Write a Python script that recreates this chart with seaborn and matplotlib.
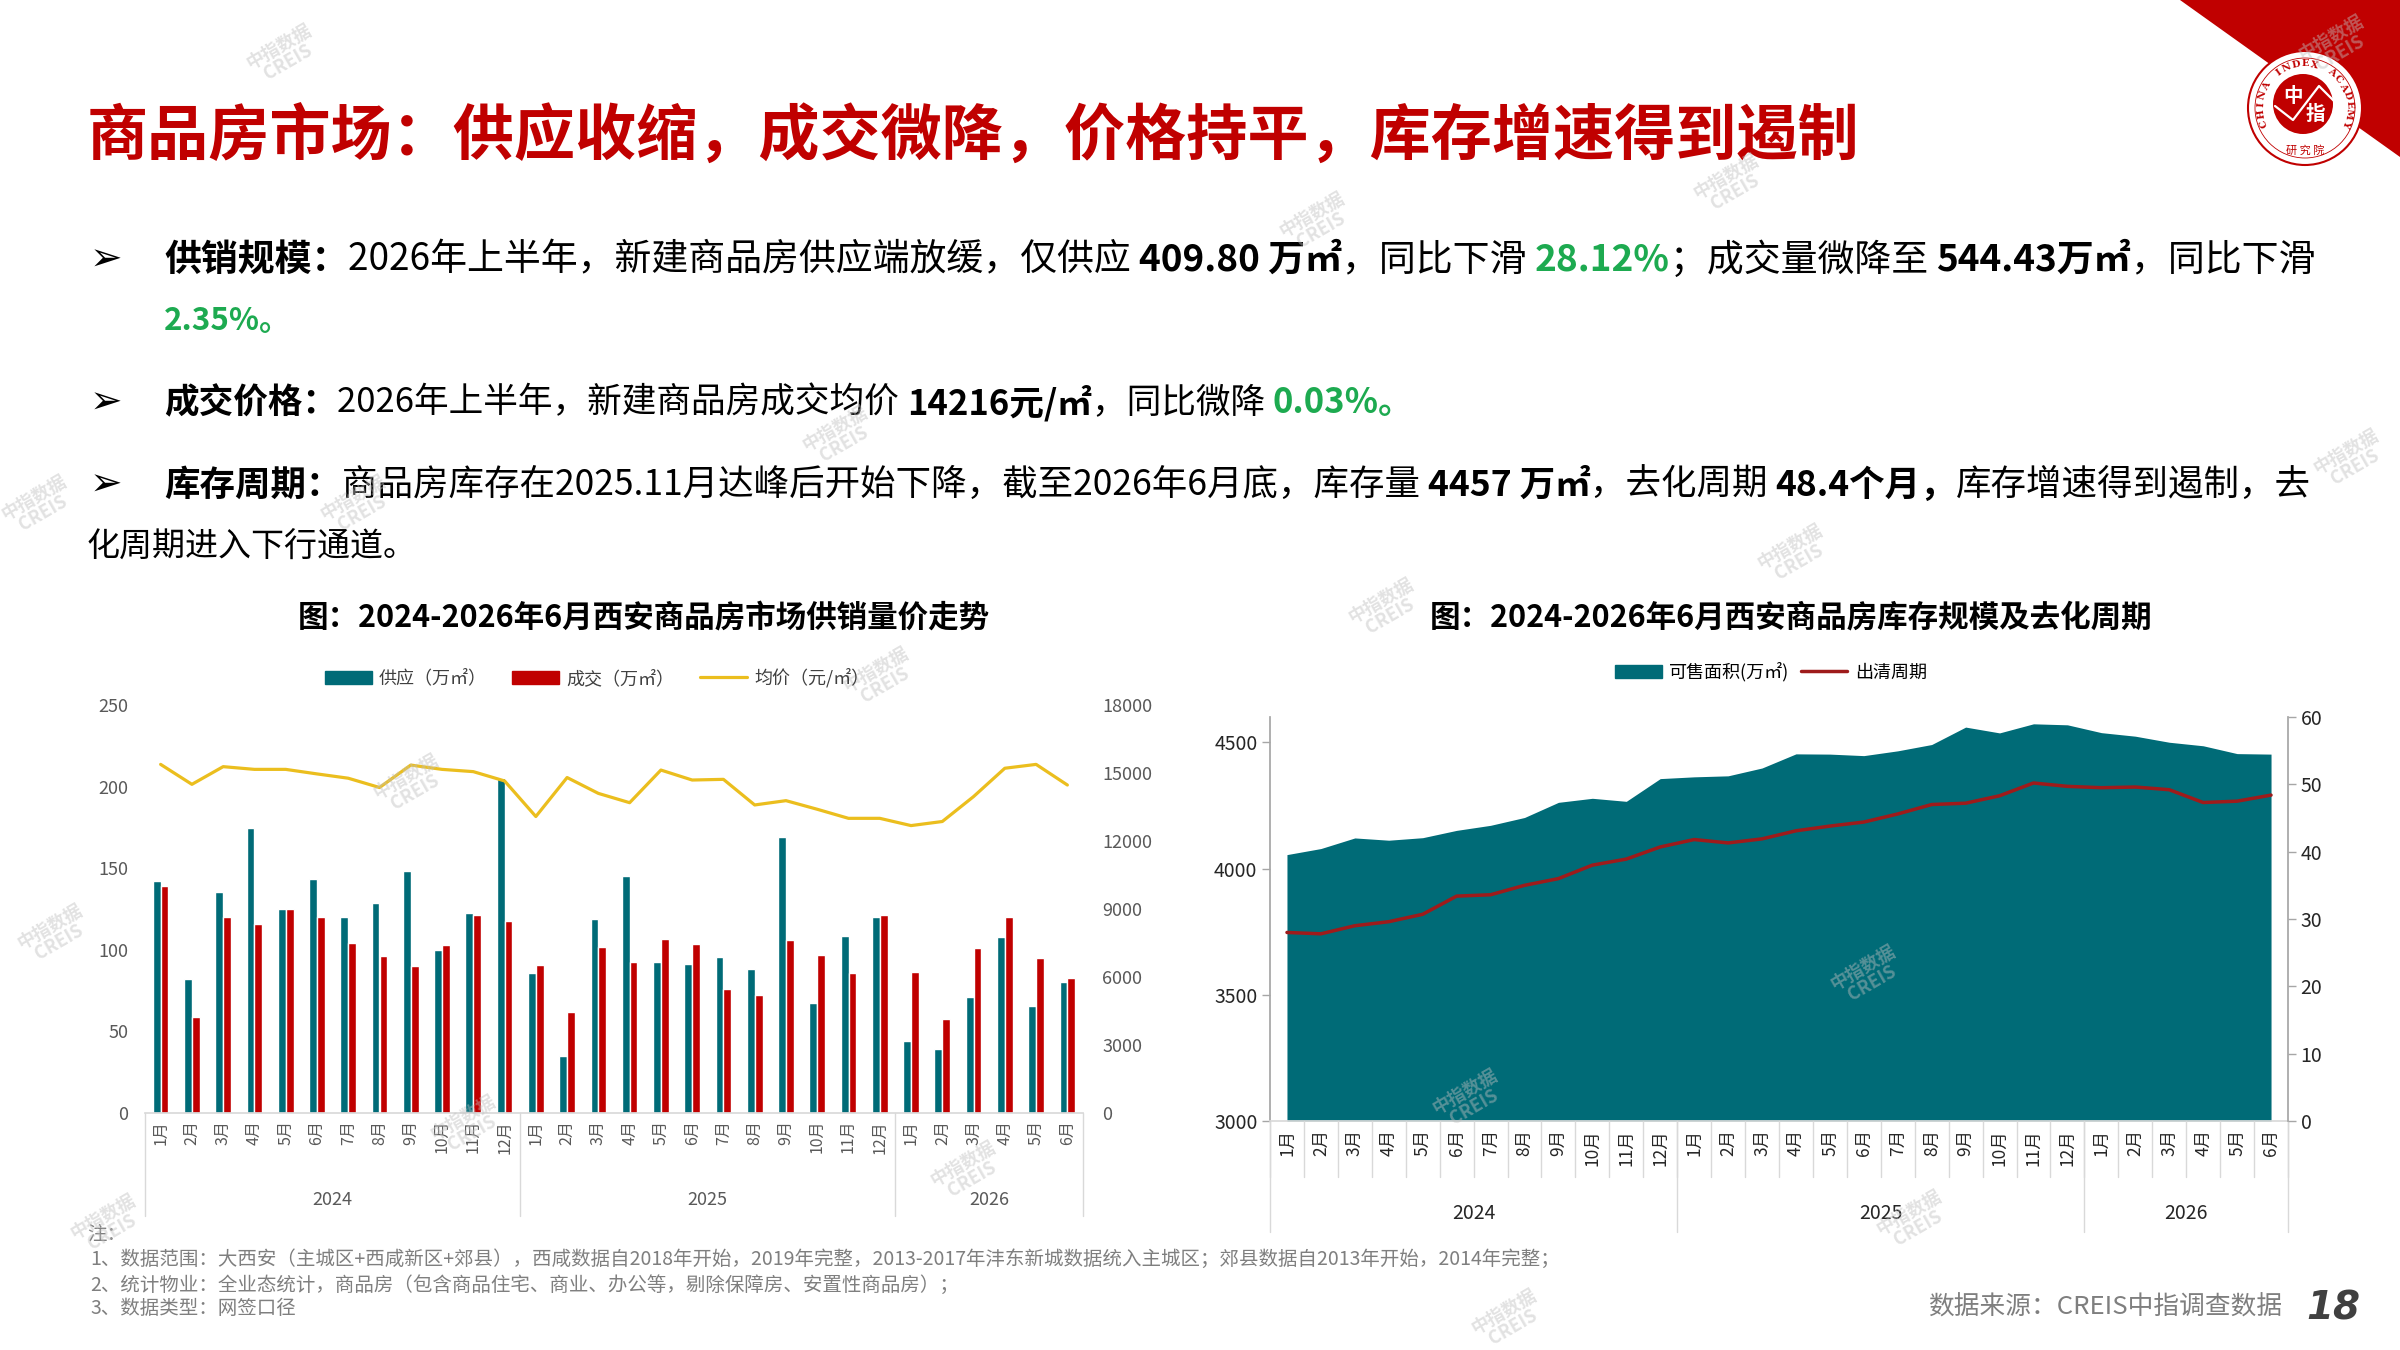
import math
import matplotlib
matplotlib.use('Agg')
import matplotlib.pyplot as plt
import seaborn as sns
import pandas as pd
from matplotlib.patches import Polygon, Circle, Patch
from matplotlib.lines import Line2D

# ---- data ----
months = ['1月', '2月', '3月', '4月', '5月', '6月', '7月', '8月', '9月', '10月', '11月', '12月',
          '1月', '2月', '3月', '4月', '5月', '6月', '7月', '8月', '9月', '10月', '11月', '12月',
          '1月', '2月', '3月', '4月', '5月', '6月']
years = ['2024', '2025', '2026']
year_counts = [12, 12, 6]

supply = [142.4, 82.0, 135.7, 174.9, 124.9, 143.3, 119.8, 128.6, 148.0, 99.8, 122.4, 205.5,
          85.9, 35.1, 118.8, 145.3, 92.4, 91.4, 95.5, 88.0, 169.0, 67.3, 108.2, 120.2,
          43.9, 39.4, 71.0, 107.8, 65.7, 80.2]
deal = [138.8, 58.6, 119.8, 116.1, 124.9, 120.0, 103.9, 96.5, 90.0, 102.9, 121.4, 117.6,
        90.6, 61.6, 101.8, 92.4, 106.5, 103.5, 76.1, 72.4, 106.1, 96.9, 85.7, 121.4,
        86.7, 57.3, 100.8, 120.4, 95.1, 82.9]
price = [15380, 14500, 15280, 15160, 15160, 14960, 14770, 14360, 15350, 15160, 15060, 14650,
         13080, 14800, 14100, 13690, 15130, 14690, 14720, 13590, 13780, 13400, 13000, 13000,
         12680, 12860, 13960, 15210, 15380, 14470]

stock = [4055, 4079, 4121, 4112, 4122, 4151, 4171, 4202, 4262, 4278, 4266, 4356,
         4363, 4367, 4398, 4454, 4453, 4447, 4466, 4491, 4560, 4537, 4573, 4569,
         4538, 4524, 4500, 4486, 4455, 4453]
period = [28.0, 27.8, 29.0, 29.6, 30.7, 33.4, 33.6, 35.0, 36.0, 38.0, 38.9, 40.7,
          41.8, 41.3, 41.9, 43.1, 43.8, 44.4, 45.6, 47.0, 47.2, 48.3, 50.2, 49.7,
          49.5, 49.6, 49.2, 47.3, 47.5, 48.4]

TEAL = '#006B77'
RED = '#C00000'
GOLD = '#EBBE1E'
DARKRED = '#9E1B1B'
GREEN = '#1DAA50'
GREY = '#7F7F7F'

sns.set_theme(style='white')
plt.rcParams['font.family'] = ['Noto Sans CJK SC', 'DejaVu Sans']
plt.rcParams['axes.unicode_minus'] = False

W, H = 2400, 1350
fig = plt.figure(figsize=(24, 13.5), dpi=100)
fig.patch.set_facecolor('white')


def box(x0, y0, x1, y1):
    # pixel box (top-left origin) -> figure fraction rect
    return [x0 / W, 1 - y1 / H, (x1 - x0) / W, (y1 - y0) / H]


n = len(months)
idx = list(range(n))

# ---------------- left chart: supply / deal / price ----------------
ax1 = fig.add_axes(box(145, 705, 1083, 1113))
df_bar = pd.DataFrame({
    'idx': idx + idx,
    'val': supply + deal,
    'series': ['供应（万㎡）'] * n + ['成交（万㎡）'] * n,
})
sns.barplot(data=df_bar, x='idx', y='val', hue='series', palette=[TEAL, RED],
            width=0.5, saturation=1, ax=ax1, legend=False)
ax1.set_xlim(-0.5, n - 0.5)
ax1.set_ylim(0, 250)
ax1.set_yticks(range(0, 251, 50))
ax1.set_xticks(idx)
ax1.set_xticklabels(months, rotation=90, fontsize=11.5, color='#595959')
ax1.tick_params(axis='y', length=0, pad=12, labelsize=13, labelcolor='#595959')
ax1.tick_params(axis='x', length=0, pad=5)
ax1.set_xlabel('')
ax1.set_ylabel('')
for s in ['left', 'right', 'top']:
    ax1.spines[s].set_visible(False)
ax1.spines['bottom'].set_color('#D9D9D9')

ax1r = ax1.twinx()
sns.lineplot(x=idx, y=price, color=GOLD, lw=2.3, ax=ax1r)
ax1r.set_ylim(0, 18000)
ax1r.set_yticks(range(0, 18001, 3000))
ax1r.tick_params(axis='y', length=0, pad=14, labelsize=13, labelcolor='#595959')
for s in ['left', 'right', 'top', 'bottom']:
    ax1r.spines[s].set_visible(False)

# year groups under the left chart
start = 0
bounds = [-0.5]
for yr, c in zip(years, year_counts):
    ax1.text(start + c / 2 - 0.5, -0.213, yr, transform=ax1.get_xaxis_transform(),
             ha='center', va='center', fontsize=13, color='#595959')
    start += c
    bounds.append(start - 0.5)
for b in bounds:
    ax1.plot([b, b], [0, -0.252], transform=ax1.get_xaxis_transform(),
             color='#D9D9D9', lw=1, clip_on=False)

fig.legend(handles=[Patch(color=TEAL), Patch(color=RED), Line2D([], [], color=GOLD, lw=2.3)],
           labels=['供应（万㎡）', '成交（万㎡）', '均价（元/㎡）'],
           loc='center', bbox_to_anchor=(597 / W, 1 - 678 / H), ncol=3, frameon=False,
           fontsize=13, handlelength=2.6, handleheight=0.75, columnspacing=1.4,
           handletextpad=0.4, labelcolor='#404040')

# ---------------- right chart: stock / period ----------------
ax2 = fig.add_axes(box(1270, 717, 2288, 1121))
ax2.fill_between(idx, stock, 3000, color=TEAL, lw=0)
ax2.set_xlim(-0.5, n - 0.5)
ax2.set_ylim(3000, 4600)
ax2.set_yticks([3000, 3500, 4000, 4500])
ax2.set_xticks(idx)
ax2.set_xticklabels(months, rotation=90, fontsize=12.5, color='#262626')
ax2.tick_params(axis='x', length=0, pad=6)
ax2.tick_params(axis='y', length=6, width=1, color='#A6A6A6', direction='out',
                labelsize=14, labelcolor='#262626', pad=3, left=True)
for s in ['right', 'top']:
    ax2.spines[s].set_visible(False)
ax2.spines['left'].set_color('#A6A6A6')
ax2.spines['bottom'].set_color('#D9D9D9')

ax2r = ax2.twinx()
sns.lineplot(x=idx, y=period, color=DARKRED, lw=2.5, ax=ax2r)
ax2r.set_ylim(0, 60)
ax2r.set_yticks(range(0, 61, 10))
ax2r.tick_params(axis='y', length=6, width=1, color='#A6A6A6', direction='out',
                 labelsize=14, labelcolor='#262626', pad=3, right=True)
for s in ['left', 'top', 'bottom']:
    ax2r.spines[s].set_visible(False)
ax2r.spines['right'].set_color('#A6A6A6')

for i in range(n + 1):
    ax2.plot([i - 0.5, i - 0.5], [0, -0.139], transform=ax2.get_xaxis_transform(),
             color='#D9D9D9', lw=1, clip_on=False)
start = 0
for yr, c in zip(years, year_counts):
    ax2.text(start + c / 2 - 0.5, -0.228, yr, transform=ax2.get_xaxis_transform(),
             ha='center', va='center', fontsize=14, color='#262626')
    ax2.plot([start - 0.5, start - 0.5], [0, -0.275], transform=ax2.get_xaxis_transform(),
             color='#D9D9D9', lw=1, clip_on=False)
    start += c
ax2.plot([start - 0.5, start - 0.5], [0, -0.275], transform=ax2.get_xaxis_transform(),
         color='#D9D9D9', lw=1, clip_on=False)

fig.legend(handles=[Patch(color=TEAL), Line2D([], [], color=DARKRED, lw=2.5)],
           labels=['可售面积(万㎡)', '出清周期'],
           loc='center', bbox_to_anchor=(1771 / W, 1 - 672 / H), ncol=2, frameon=False,
           fontsize=13, handlelength=2.6, handleheight=0.75, columnspacing=0.6,
           handletextpad=0.4, labelcolor='#000000')

# ---------------- slide text / decoration layer (pixel coords) ----------------
deco = fig.add_axes([0, 0, 1, 1])
deco.set_xlim(0, W)
deco.set_ylim(H, 0)
deco.axis('off')

R = fig.canvas.get_renderer()


def run_width(s, **kw):
    t1 = deco.text(0, 0, s + '|', **kw)
    t2 = deco.text(0, 0, '|', **kw)
    w = t1.get_window_extent(R).width - t2.get_window_extent(R).width
    t1.remove()
    t2.remove()
    return w


STY = {'n': dict(color='#000000', weight='normal'),
       'b': dict(color='#000000', weight='bold'),
       'g': dict(color=GREEN, weight='bold')}


def rich(x, y, parts, x_end, size=26):
    # scale font so the run of text ends where it does on the slide
    total = sum(run_width(s, fontsize=size, **STY[st]) for s, st in parts)
    size = size * (x_end - x) / total
    for s, st in parts:
        kw = dict(fontsize=size, **STY[st])
        deco.text(x, y, s, va='center', ha='left', **kw)
        x += run_width(s, **kw)


deco.text(87, 138, '商品房市场：供应收缩，成交微降，价格持平，库存增速得到遏制',
          fontsize=44, weight='bold', color=RED, va='center', ha='left')

for yb in [260, 403, 485]:
    deco.text(90, yb, '➢', fontsize=28, family=['DejaVu Sans'], va='center', ha='left',
              color='#000000')

rich(164, 260, [('供销规模：', 'b'), ('2026年上半年，新建商品房供应端放缓，仅供应 ', 'n'),
                ('409.80 万㎡', 'b'), ('，同比下滑 ', 'n'), ('28.12%', 'g'),
                ('；成交量微降至 ', 'n'), ('544.43万㎡', 'b'), ('，同比下滑', 'n')], 2319)
rich(164, 321, [('2.35%。', 'g')], 291)
rich(164, 403, [('成交价格：', 'b'), ('2026年上半年，新建商品房成交均价 ', 'n'),
                ('14216元/㎡', 'b'), ('，同比微降 ', 'n'), ('0.03%。', 'g')], 1415)
rich(164, 485, [('库存周期：', 'b'),
                ('商品房库存在2025.11月达峰后开始下降，截至2026年6月底，库存量 ', 'n'),
                ('4457 万㎡', 'b'), ('，去化周期 ', 'n'), ('48.4个月，', 'b'),
                ('库存增速得到遏制，去', 'n')], 2310)
rich(87, 546, [('化周期进入下行通道。', 'n')], 417)

deco.text(644, 618, '图：2024-2026年6月西安商品房市场供销量价走势', fontsize=22,
          weight='bold', ha='center', va='center', color='#000000')
deco.text(1791, 617, '图：2024-2026年6月西安商品房库存规模及去化周期', fontsize=22,
          weight='bold', ha='center', va='center', color='#000000')

notes = ['注：',
         '1、数据范围：大西安（主城区+西咸新区+郊县），西咸数据自2018年开始，2019年完整，2013-2017年沣东新城数据统入主城区；郊县数据自2013年开始，2014年完整；',
         '2、统计物业：全业态统计，商品房（包含商品住宅、商业、办公等，剔除保障房、安置性商品房）；',
         '3、数据类型：网签口径']
for t, (xn, yn) in zip(notes, [(87, 1234), (90, 1259), (90, 1285), (90, 1309)]):
    deco.text(xn, yn, t, fontsize=14, color=GREY, va='center', ha='left')

deco.text(2282, 1308, '数据来源：CREIS中指调查数据', fontsize=18.5, color=GREY,
          ha='right', va='center')
deco.text(2306, 1308, '18', fontsize=28, color='#404040', weight='bold', style='italic',
          ha='left', va='center', family=['DejaVu Sans'])

# top-right corner band and logo
deco.add_patch(Polygon([(2180, 0), (2400, 0), (2400, 157)], closed=True, color=RED, lw=0))
cx, cy = 2305, 108
deco.add_patch(Circle((cx, cy), 57, facecolor='white', edgecolor=RED, lw=1.5))
deco.add_patch(Circle((cx, cy), 50, facecolor='none', edgecolor=RED, lw=0.6))
deco.add_patch(Circle((cx - 2, cy - 4), 30, facecolor=RED, edgecolor='none'))
deco.plot([cx - 30, cx - 12, cx + 14, cx + 30], [cy - 2, cy + 12, cy - 22, cy - 6],
          color='white', lw=1.6)
deco.text(cx - 12, cy - 12, '中', fontsize=14, color='white', weight='bold',
          ha='center', va='center')
deco.text(cx + 10, cy + 6, '指', fontsize=14, color='white', weight='bold',
          ha='center', va='center')
deco.text(cx, cy + 42, '研 究 院', fontsize=8, color=RED, ha='center', va='center')
arc = 'CHINA INDEX ACADEMY'
for k, ch in enumerate(arc):
    ang = 200 - k * (220 / (len(arc) - 1))
    a = math.radians(ang)
    deco.text(cx + 44 * math.cos(a), cy - 44 * math.sin(a), ch, fontsize=7,
              family=['DejaVu Serif'], color=RED, weight='bold', rotation=ang - 90,
              ha='center', va='center')

# faint watermarks
wm = [(283, 54), (1316, 222), (1730, 184), (839, 436), (357, 505), (1794, 554),
      (1385, 608), (410, 784), (880, 677), (54, 934), (1867, 975), (1469, 1099),
      (467, 1125), (967, 1171), (1913, 1220), (107, 1224), (1508, 1319), (2335, 45),
      (2350, 459), (38, 505)]
for x, y in wm:
    deco.text(x, y, '中指数据\nCREIS', rotation=30, color='#BFBFBF', alpha=0.45,
              fontsize=13, weight='bold', ha='center', va='center', linespacing=0.95)

fig.savefig('out.png', dpi=100)
